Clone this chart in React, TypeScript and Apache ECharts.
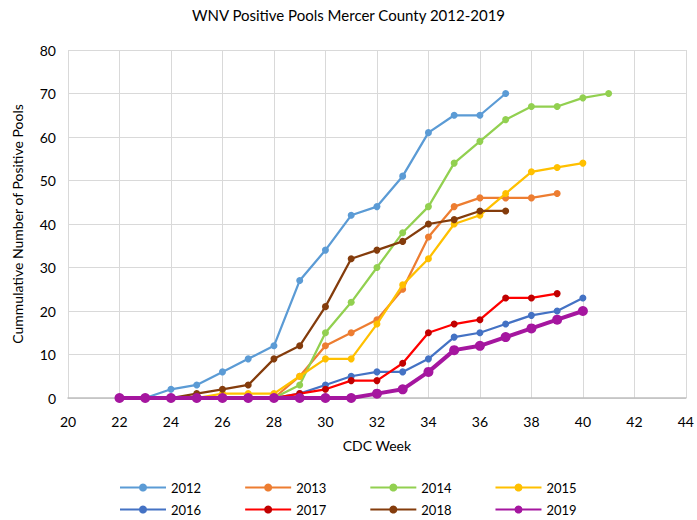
import React, { useEffect, useRef } from "react";
import * as echarts from "echarts";

const weeks = [22, 23, 24, 25, 26, 27, 28, 29, 30, 31, 32, 33, 34, 35, 36, 37, 38, 39, 40, 41];
const years = ["2012", "2013", "2014", "2015", "2016", "2017", "2018", "2019"];
const v2012 = [0, 0, 2, 3, 6, 9, 12, 27, 34, 42, 44, 51, 61, 65, 65, 70];
const v2013 = [0, 0, 0, 0, 0, 0, 0, 5, 12, 15, 18, 25, 37, 44, 46, 46, 46, 47];
const v2014 = [0, 0, 0, 0, 0, 0, 0, 3, 15, 22, 30, 38, 44, 54, 59, 64, 67, 67, 69, 70];
const v2015 = [0, 0, 0, 0, 1, 1, 1, 5, 9, 9, 17, 26, 32, 40, 42, 47, 52, 53, 54];
const v2016 = [0, 0, 0, 0, 0, 0, 0, 1, 3, 5, 6, 6, 9, 14, 15, 17, 19, 20, 23];
const v2017 = [0, 0, 0, 0, 0, 0, 0, 1, 2, 4, 4, 8, 15, 17, 18, 23, 23, 24];
const v2018 = [0, 0, 0, 1, 2, 3, 9, 12, 21, 32, 34, 36, 40, 41, 43, 43];
const v2019 = [0, 0, 0, 0, 0, 0, 0, 0, 0, 0, 1, 2, 6, 11, 12, 14, 16, 18, 20];
const values = [v2012, v2013, v2014, v2015, v2016, v2017, v2018, v2019];
const lineColors = ["#5B9BD5", "#ED7D31", "#92D050", "#FFC000", "#4472C4", "#FF0000", "#843C0C", "#A5169F"];
const markerColors = ["#5B9BD5", "#ED7D31", "#92D050", "#FFC000", "#4472C4", "#C00000", "#843C0C", "#A5169F"];
const xTicks = { min: 20, max: 44, step: 2 };
const yTicks = { min: 0, max: 80, step: 10 };

const FONT = "Lato, 'Liberation Sans', sans-serif";

export default function App() {
  const ref = useRef<HTMLDivElement>(null);
  useEffect(() => {
    if (!ref.current) return;
    const chart = echarts.init(ref.current, null, { renderer: "svg" });
    const series = years.map((y, i) => {
      const big = y === "2019";
      return {
        name: y,
        type: "line",
        data: values[i].map((v, k) => [weeks[k], v]),
        symbol: "circle",
        symbolSize: big ? 10 : 7,
        lineStyle: { color: lineColors[i], width: big ? 4 : 2.25 },
        itemStyle: { color: markerColors[i], borderColor: markerColors[i], borderWidth: 0 },
        emphasis: { disabled: true },
        z: 2 + i,
      };
    });
    const legendCommon = {
      left: 119,
      itemWidth: 46,
      itemHeight: 10,
      itemGap: 43,
      padding: 0,
      textStyle: { fontFamily: FONT, fontSize: 13, color: "#000" },
    };
    chart.setOption({
      animation: false,
      textStyle: { fontFamily: FONT },
      title: {
        text: "WNV Positive Pools Mercer County 2012-2019",
        left: "center",
        top: 2,
        textStyle: { fontFamily: FONT, fontSize: 15, fontWeight: "normal", color: "#000" },
      },
      legend: [
        { ...legendCommon, top: 481, data: years.slice(0, 4) },
        { ...legendCommon, top: 503, data: years.slice(4) },
      ],
      grid: { left: 68, right: 9, top: 50, bottom: 122, containLabel: false },
      xAxis: {
        type: "value",
        min: xTicks.min,
        max: xTicks.max,
        interval: xTicks.step,
        name: "CDC Week",
        nameLocation: "middle",
        nameGap: 40,
        nameTextStyle: { fontFamily: FONT, fontSize: 14, color: "#000" },
        axisLine: { show: true, lineStyle: { color: "#BFBFBF", width: 1.5 } },
        axisTick: { show: false },
        axisLabel: { fontFamily: FONT, fontSize: 14, color: "#000", margin: 16 },
        splitLine: { show: true, lineStyle: { color: "#D9D9D9", width: 1 } },
      },
      yAxis: {
        type: "value",
        min: yTicks.min,
        max: yTicks.max,
        interval: yTicks.step,
        name: "Cummulative Number of Positive Pools",
        nameLocation: "middle",
        nameGap: 44,
        nameTextStyle: { fontFamily: FONT, fontSize: 14, color: "#000" },
        axisLine: { show: false },
        axisTick: { show: false },
        axisLabel: { fontFamily: FONT, fontSize: 14, color: "#000", margin: 12 },
        splitLine: { show: true, lineStyle: { color: "#D9D9D9", width: 1 } },
      },
      series,
    });
    return () => chart.dispose();
  }, []);
  return <div ref={ref} style={{ width: 697, height: 520, position: "absolute", left: 0, top: 0 }} />;
}
